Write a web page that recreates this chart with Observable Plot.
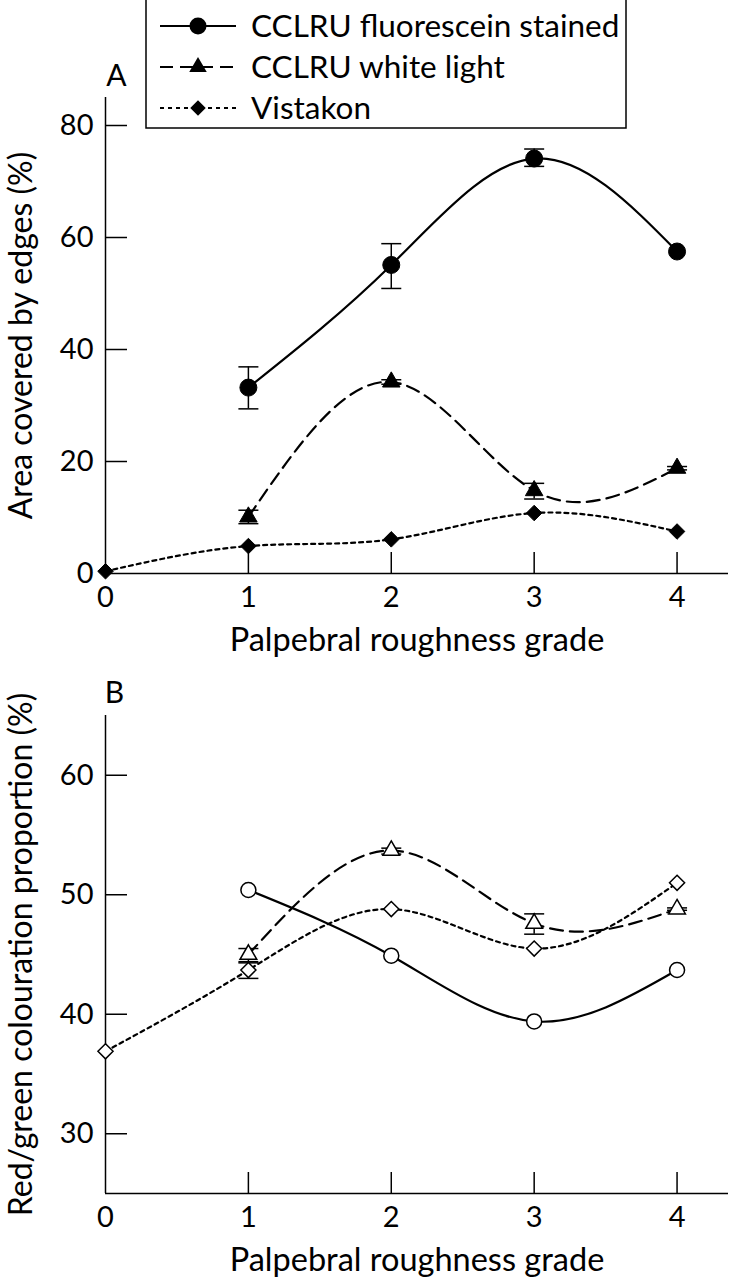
<!DOCTYPE html>
<html><head><meta charset="utf-8">
<script src="https://cdn.jsdelivr.net/npm/d3@7"></script>
<script src="https://cdn.jsdelivr.net/npm/@observablehq/plot@0.6"></script>
<style>
html,body{margin:0;padding:0;background:#fff;}
#wrap{position:relative;width:729px;height:1280px;font-family:Lato,sans-serif;overflow:hidden;}
#wrap svg{display:block;}
#legend{position:absolute;left:145px;top:-2px;}
</style></head><body><div id="wrap"></div>
<script>
// ---------- data ----------
const grades = [0, 1, 2, 3, 4];
const seriesNames = ["CCLRU fluorescein stained", "CCLRU white light", "Vistakon"];
const xLabel = "Palpebral roughness grade";
const aYLabel = "Area covered by edges (%)";
const bYLabel = "Red/green colouration proportion (%)";
const aYTicks = [0, 20, 40, 60, 80];
const bYTicks = [30, 40, 50, 60];

// Panel A
const aFluoX = [1, 2, 3, 4];
const aFluoY = [33.2, 55.1, 74.1, 57.5];
const aFluoErrX = [1, 2, 3];
const aFluoLo = [29.4, 50.9, 72.7];
const aFluoHi = [36.9, 58.9, 75.8];

const aWhiteX = [1, 2, 3, 4];
const aWhiteY = [10.1, 34.2, 14.8, 18.8];
const aWhiteErrX = [1, 2, 3, 4];
const aWhiteLo = [8.9, 33.8, 13.3, 18.5];
const aWhiteHi = [11.3, 34.6, 16.1, 19.1];

const aVistX = [0, 1, 2, 3, 4];
const aVistY = [0.4, 4.9, 6.1, 10.8, 7.5];

// Panel B
const bFluoX = [1, 2, 3, 4];
const bFluoY = [50.4, 44.9, 39.4, 43.7];

const bWhiteX = [1, 2, 3, 4];
const bWhiteY = [45.0, 53.7, 47.6, 48.8];
const bWhiteErrX = [1, 2, 3, 4];
const bWhiteLo = [44.4, 53.4, 46.7, 48.7];
const bWhiteHi = [45.5, 53.9, 48.4, 48.9];

const bVistX = [0, 1, 2, 3, 4];
const bVistY = [36.9, 43.7, 48.8, 45.5, 51.0];
const bVistErrX = [1];
const bVistLo = [43.0];
const bVistHi = [44.3];

// ---------- helpers ----------
const rows = (xs, ys) => xs.map((x, i) => ({x, y: ys[i]}));
const errRows = (xs, lo, hi) => xs.map((x, i) => ({x, lo: lo[i], hi: hi[i]}));
const capSymbol = {draw(ctx, size) { const w = Math.sqrt(size / Math.PI); ctx.moveTo(-w, 0); ctx.lineTo(w, 0); }};
const FONT = "Lato";
const styles = {
  solid: {stroke: "black", strokeWidth: 2.2},
  dash: {stroke: "black", strokeWidth: 2.2, strokeDasharray: "13,7"},
  dot: {stroke: "black", strokeWidth: 2.2, strokeDasharray: "4,4"}
};

function errMarks(data) {
  return [
    Plot.ruleX(data, {x: "x", y1: "lo", y2: "hi", stroke: "black", strokeWidth: 1.5}),
    Plot.dot(data, {x: "x", y: "lo", symbol: capSymbol, r: 10, stroke: "black", fill: "none", strokeWidth: 1.5}),
    Plot.dot(data, {x: "x", y: "hi", symbol: capSymbol, r: 10, stroke: "black", fill: "none", strokeWidth: 1.5})
  ];
}

function panel({height, marginTop, marginBottom, yDomain, yTicks, yLabel, letter, letterDx, letterDy, series, errs, filled}) {
  const yMin = yDomain[0];
  const mk = filled
    ? {fill: "black", stroke: "black", strokeWidth: 1}
    : {fill: "white", stroke: "black", strokeWidth: 1.5};
  return Plot.plot({
    width: 729, height,
    marginTop, marginBottom, marginLeft: 105, marginRight: 1,
    x: {domain: [0, 4.36], axis: null},
    y: {domain: yDomain, axis: null},
    style: {fontFamily: FONT, fontSize: "29px", color: "black", background: "white", overflow: "visible"},
    marks: [
      Plot.ruleX([0], {stroke: "black", strokeWidth: 1.5}),
      Plot.ruleY([yMin], {stroke: "black", strokeWidth: 1.5}),
      Plot.axisY({ticks: yTicks.filter(t => t !== yMin), tickSize: 22, dx: 22, fill: "none", label: null, strokeWidth: 1.5}),
      Plot.text(yTicks, {y: d => d, text: d => String(d), frameAnchor: "left", dx: -12, textAnchor: "end", lineAnchor: "middle", fontSize: 29}),
      Plot.axisX({ticks: grades.slice(1), tickSize: 21, dy: -21, fill: "none", label: null, strokeWidth: 1.5}),
      Plot.text(grades, {x: d => d, text: d => String(d), frameAnchor: "bottom", dy: 24, textAnchor: "middle", lineAnchor: "middle", fontSize: 29}),
      Plot.text([yLabel], {text: d => d, frameAnchor: "left", dx: -84, rotate: -90, textAnchor: "middle", lineAnchor: "middle", fontSize: 32}),
      Plot.text([xLabel], {text: d => d, frameAnchor: "bottom", dy: 67, textAnchor: "middle", lineAnchor: "middle", fontSize: 32.5}),
      Plot.text([letter], {text: d => d, frameAnchor: "top-left", dx: letterDx, dy: letterDy, textAnchor: "middle", lineAnchor: "middle", fontSize: 30}),
      ...errs.flatMap(errMarks),
      Plot.line(series[0], {x: "x", y: "y", curve: "natural", ...styles.solid}),
      Plot.line(series[1], {x: "x", y: "y", curve: "natural", ...styles.dash}),
      Plot.line(series[2], {x: "x", y: "y", curve: "natural", ...styles.dot}),
      Plot.dot(series[0], {x: "x", y: "y", symbol: "circle", r: filled ? 8.5 : 7.5, ...mk}),
      Plot.dot(series[1], {x: "x", y: "y", symbol: "triangle", r: filled ? 6.5 : 6.2, ...mk}),
      Plot.dot(series[2], {x: "x", y: "y", symbol: "diamond2", r: filled ? 7 : 6.8, ...mk})
    ]
  });
}

const wrap = document.getElementById("wrap");

const plotA = panel({
  height: 660, marginTop: 97, marginBottom: 87, yDomain: [0, 85], yTicks: aYTicks,
  yLabel: aYLabel, letter: "A", letterDx: 11, letterDy: -21, filled: true,
  series: [rows(aFluoX, aFluoY), rows(aWhiteX, aWhiteY), rows(aVistX, aVistY)],
  errs: [errRows(aFluoErrX, aFluoLo, aFluoHi), errRows(aWhiteErrX, aWhiteLo, aWhiteHi)]
});
wrap.appendChild(plotA);

const plotB = panel({
  height: 620, marginTop: 55, marginBottom: 87, yDomain: [25, 65], yTicks: bYTicks,
  yLabel: bYLabel, letter: "B", letterDx: 9, letterDy: -22, filled: false,
  series: [rows(bFluoX, bFluoY), rows(bWhiteX, bWhiteY), rows(bVistX, bVistY)],
  errs: [errRows(bWhiteErrX, bWhiteLo, bWhiteHi), errRows(bVistErrX, bVistLo, bVistHi)]
});
wrap.appendChild(plotB);

// ---------- legend ----------
const lw = 482, lh = 131;
const leg = d3.select(wrap).append("svg").attr("id", "legend").attr("width", lw).attr("height", lh);
leg.append("rect").attr("x", 1).attr("y", 1).attr("width", lw - 2).attr("height", lh - 2)
  .attr("fill", "white").attr("stroke", "black").attr("stroke-width", 1.5);
const legSym = [
  d3.symbol(d3.symbolCircle, Math.PI * 8.5 * 8.5),
  d3.symbol(d3.symbolTriangle, Math.PI * 6.5 * 6.5),
  d3.symbol(d3.symbolDiamond2, Math.PI * 7 * 7)
];
const legDash = [null, "13,7", "4,4"];
seriesNames.forEach((name, i) => {
  const cy = 28 + i * 41;
  const g = leg.append("g");
  g.append("line").attr("x1", 15).attr("x2", 91).attr("y1", cy).attr("y2", cy)
    .attr("stroke", "black").attr("stroke-width", 2.2).attr("stroke-dasharray", legDash[i]);
  g.append("path").attr("d", legSym[i]()).attr("transform", `translate(53,${cy})`).attr("fill", "black");
  g.append("text").attr("x", 106).attr("y", cy).attr("dy", "0.36em")
    .attr("font-family", FONT).attr("font-size", 31.5).text(name);
});
</script>
</body></html>
